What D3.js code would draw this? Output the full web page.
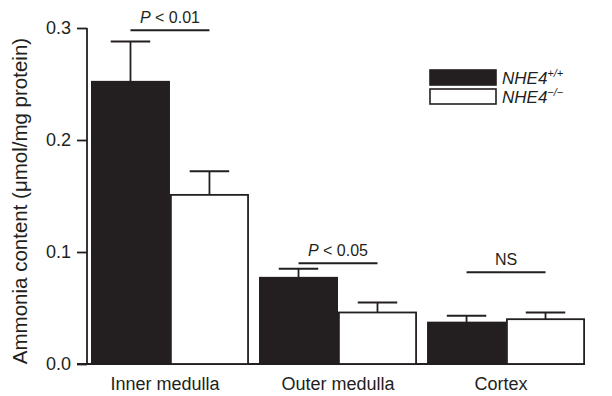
<!DOCTYPE html>
<html>
<head>
<meta charset="utf-8">
<script src="https://cdn.jsdelivr.net/npm/d3@7"></script>
<style>
  body { margin: 0; background: #fff; }
  text { font-family: "Liberation Sans", Arial, sans-serif; fill: #231f20; }
</style>
</head>
<body>
<script>
// values
var regions = ['Inner medulla', 'Outer medulla', 'Cortex'];
var genotypes = ['wt', 'ko'];
var wtMean = [0.252, 0.077, 0.037];
var wtErr  = [0.036, 0.008, 0.006];
var koMean = [0.151, 0.046, 0.040];
var koErr  = [0.021, 0.009, 0.006];
var sigLabels = ['P < 0.01', 'P < 0.05', 'NS'];
var sigLevel  = [0.298, 0.090, 0.082];
var yTicks = [0.0, 0.1, 0.2, 0.3];

var ink = '#231f20';
var width = 612, height = 396;

var svg = d3.select('body')
  .append('svg')
  .attr('width', width)
  .attr('height', height);

var y = d3.scaleLinear()
  .domain([0, 0.3])
  .range([364, 28]);

var x0 = d3.scaleBand()
  .domain(regions)
  .range([91, 585])
  .paddingInner(0.06)
  .paddingOuter(0.0);

var x1 = d3.scaleBand()
  .domain(genotypes)
  .range([0, x0.bandwidth()]);

var rows = regions.map((r, i) => {
  return {region: r, vals: [
    {g: 'wt', mean: wtMean[i], err: wtErr[i]},
    {g: 'ko', mean: koMean[i], err: koErr[i]}
  ]};
});

// y axis
var yAxis = d3.axisLeft(y)
  .tickValues(yTicks)
  .tickFormat(d3.format('.1f'))
  .tickSize(10)
  .tickPadding(6);

var gy = svg.append('g')
  .attr('transform', 'translate(87,0)')
  .call(yAxis);
gy.select('.domain').attr('d', 'M0,' + y(0.3) + 'V' + y(0)).attr('stroke', ink).attr('stroke-width', 1.8);
gy.selectAll('.tick line').attr('stroke', ink).attr('stroke-width', 1.8);
gy.selectAll('.tick text').style('font-size', '18px').attr('fill', ink);

// baseline
svg.append('line')
  .attr('x1', 77).attr('x2', 585)
  .attr('y1', y(0)).attr('y2', y(0))
  .attr('stroke', ink).attr('stroke-width', 2);

svg.append('text')
  .attr('transform', 'translate(27,' + (y(0.15) + 5) + ') rotate(-90)')
  .attr('text-anchor', 'middle')
  .style('font-size', '20.5px')
  .text('Ammonia content (\u03bcmol/mg protein)');

// bars
var groups = svg.selectAll('.grp')
  .data(rows)
  .enter().append('g')
  .attr('class', 'grp')
  .attr('transform', (d) => 'translate(' + x0(d.region) + ',0)');

groups.selectAll('line.err')
  .data((d) => d.vals)
  .enter().append('line')
  .attr('class', 'err')
  .attr('x1', (d) => x1(d.g) + x1.bandwidth() / 2)
  .attr('x2', (d) => x1(d.g) + x1.bandwidth() / 2)
  .attr('y1', (d) => y(d.mean))
  .attr('y2', (d) => y(d.mean + d.err))
  .attr('stroke', ink).attr('stroke-width', 1.8);

groups.selectAll('line.cap')
  .data((d) => d.vals)
  .enter().append('line')
  .attr('class', 'cap')
  .attr('x1', (d) => x1(d.g) + x1.bandwidth() * 0.25)
  .attr('x2', (d) => x1(d.g) + x1.bandwidth() * 0.75)
  .attr('y1', (d) => y(d.mean + d.err))
  .attr('y2', (d) => y(d.mean + d.err))
  .attr('stroke', ink).attr('stroke-width', 2);

groups.selectAll('rect')
  .data((d) => d.vals)
  .enter().append('rect')
  .attr('x', (d) => x1(d.g) + 0.9)
  .attr('width', x1.bandwidth() - 1.8)
  .attr('y', (d) => y(d.mean))
  .attr('height', (d) => y(0) - y(d.mean))
  .attr('fill', (d) => d.g == 'wt' ? ink : '#fff')
  .attr('stroke', ink)
  .attr('stroke-width', 1.8);

// significance markers
groups.append('line')
  .attr('x1', x1('wt') + x1.bandwidth() / 2)
  .attr('x2', x1('ko') + x1.bandwidth() / 2)
  .attr('y1', (d, i) => y(sigLevel[i]))
  .attr('y2', (d, i) => y(sigLevel[i]))
  .attr('stroke', ink).attr('stroke-width', 2);

groups.append('text')
  .attr('x', x1.bandwidth())
  .attr('y', (d, i) => y(sigLevel[i]) - 7)
  .attr('text-anchor', 'middle')
  .style('font-size', '16px')
  .each(function (d, i) {
    var t = d3.select(this);
    if (sigLabels[i].startsWith('P')) {
      t.append('tspan').style('font-style', 'italic').text('P');
      t.append('tspan').text(sigLabels[i].slice(1));
    } else {
      t.text(sigLabels[i]);
    }
  });

// category labels
svg.append('g').selectAll('text')
  .data(regions)
  .enter().append('text')
  .attr('x', (d, i) => x0(d) + x0.bandwidth() / 2 - (i == 1 ? 0 : 5))
  .attr('y', 390)
  .attr('text-anchor', 'middle')
  .style('font-size', '18px')
  .text((d) => d);

// legend
var legend = [
  {g: 'wt', sup: '+/+'},
  {g: 'ko', sup: '\u2212/\u2212'}
];
var lg = svg.append('g').attr('transform', 'translate(430,70)');
lg.selectAll('rect')
  .data(legend)
  .enter().append('rect')
  .attr('x', 0)
  .attr('y', (d, i) => i * 19)
  .attr('width', 66)
  .attr('height', 15)
  .attr('fill', (d) => d.g == 'wt' ? ink : '#fff')
  .attr('stroke', ink).attr('stroke-width', 1.6);
lg.selectAll('text')
  .data(legend)
  .enter().append('text')
  .attr('x', 72)
  .attr('y', (d, i) => i * 19 + 14)
  .style('font-size', '17px')
  .style('font-style', 'italic')
  .each(function (d) {
    var t = d3.select(this);
    t.append('tspan').text('NHE4');
    t.append('tspan').attr('dy', -7).style('font-size', '11px').text(d.sup);
  });
</script>
</body>
</html>
